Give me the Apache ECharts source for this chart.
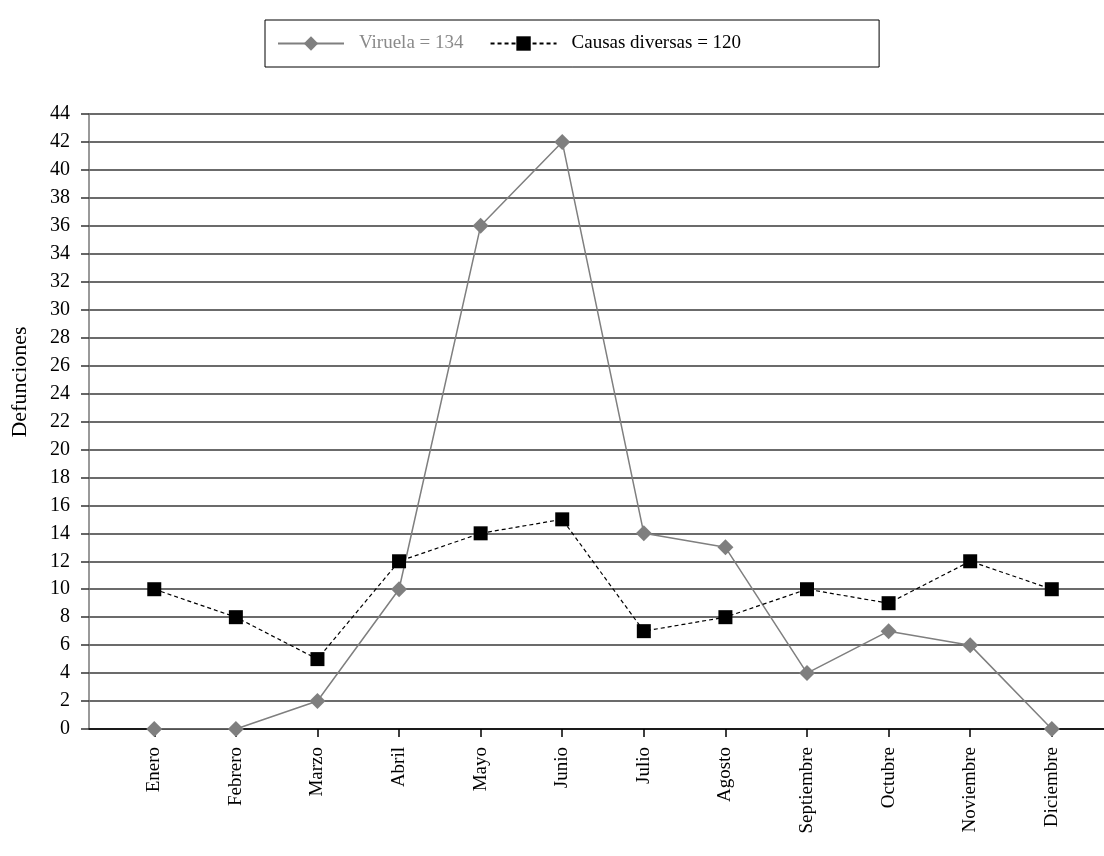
<!DOCTYPE html>
<html>
<head>
<meta charset="utf-8">
<script src="https://cdn.jsdelivr.net/npm/echarts@6/dist/echarts.min.js"></script>
<style>
  html, body { margin: 0; padding: 0; background: #fff; }
  #chart { width: 1104px; height: 856px; }
</style>
</head>
<body>
<div id="chart"></div>
<script>
// Monthly deaths: smallpox versus other causes
const months = ['Enero', 'Febrero', 'Marzo', 'Abril', 'Mayo', 'Junio',
                'Julio', 'Agosto', 'Septiembre', 'Octubre', 'Noviembre', 'Diciembre'];
const viruela = [0, 0, 2, 10, 36, 42, 14, 13, 4, 7, 6, 0];
const causasDiversas = [10, 8, 5, 12, 14, 15, 7, 8, 10, 9, 12, 10];
const yTicks = [0, 2, 4, 6, 8, 10, 12, 14, 16, 18, 20, 22, 24, 26, 28, 30, 32, 34, 36, 38, 40, 42, 44];

const sum = a => a.reduce((s, v) => s + v, 0);
const nameV = 'Viruela = ' + sum(viruela);
const nameC = 'Causas diversas = ' + sum(causasDiversas);
const monthIdx = months.map((_, i) => i);
const FONT = '"Liberation Serif", "DejaVu Serif", serif';

const chart = echarts.init(document.getElementById('chart'), null, { renderer: 'canvas' });
chart.setOption({
  animation: false,
  textStyle: { fontFamily: FONT },
  grid: { left: 89, right: 0, top: 114, bottom: 127, containLabel: false },
  legend: {
    left: 265, top: 20,
    padding: [14, 138, 14, 12],
    borderColor: '#000', borderWidth: 1,
    itemWidth: 66, itemHeight: 18, itemGap: 26,
    textStyle: { fontFamily: FONT, fontSize: 19, color: '#000', padding: [0, 0, 0, 10] },
    data: [
      { name: nameV, textStyle: { color: '#8a8a8a' } },
      { name: nameC }
    ]
  },
  xAxis: {
    type: 'value',
    min: -0.8, max: 11.64,
    axisLine: { show: true, onZero: false, lineStyle: { color: '#000', width: 1.5 } },
    axisTick: { show: true, customValues: monthIdx, length: 8, lineStyle: { color: '#000', width: 1.5 } },
    axisLabel: {
      customValues: monthIdx,
      rotate: 90, margin: 18,
      fontFamily: FONT, fontSize: 19, color: '#000',
      formatter: v => months[Math.round(v)]
    },
    splitLine: { show: false }
  },
  yAxis: {
    type: 'value',
    min: 0, max: 44, interval: 2,
    axisLine: { show: true, onZero: false, lineStyle: { color: '#777', width: 1.5 } },
    axisTick: { show: true, length: 8, lineStyle: { color: '#333', width: 1.5 } },
    axisLabel: {
      margin: 19, fontFamily: FONT, fontSize: 20, color: '#000',
      formatter: v => (yTicks.includes(v) ? String(v) : '')
    },
    splitLine: { show: true, lineStyle: { color: '#3a3a3a', width: 1.5 } }
  },
  graphic: [{
    type: 'text',
    x: 20, y: 382,
    rotation: Math.PI / 2,
    style: {
      text: 'Defunciones',
      font: '22px ' + FONT,
      fill: '#000',
      align: 'center',
      verticalAlign: 'middle'
    }
  }],
  series: [
    {
      name: nameV,
      type: 'line',
      data: viruela.map((v, i) => [i, v]),
      symbol: 'diamond', symbolSize: 16,
      itemStyle: { color: '#7f7f7f' },
      lineStyle: { color: '#7f7f7f', width: 1.5 },
      z: 3
    },
    {
      name: nameC,
      type: 'line',
      data: causasDiversas.map((v, i) => [i, v]),
      symbol: 'rect', symbolSize: 14,
      itemStyle: { color: '#000' },
      lineStyle: { color: '#000', width: 1.2, type: [4, 3] },
      z: 4
    }
  ]
});
</script>
</body>
</html>
